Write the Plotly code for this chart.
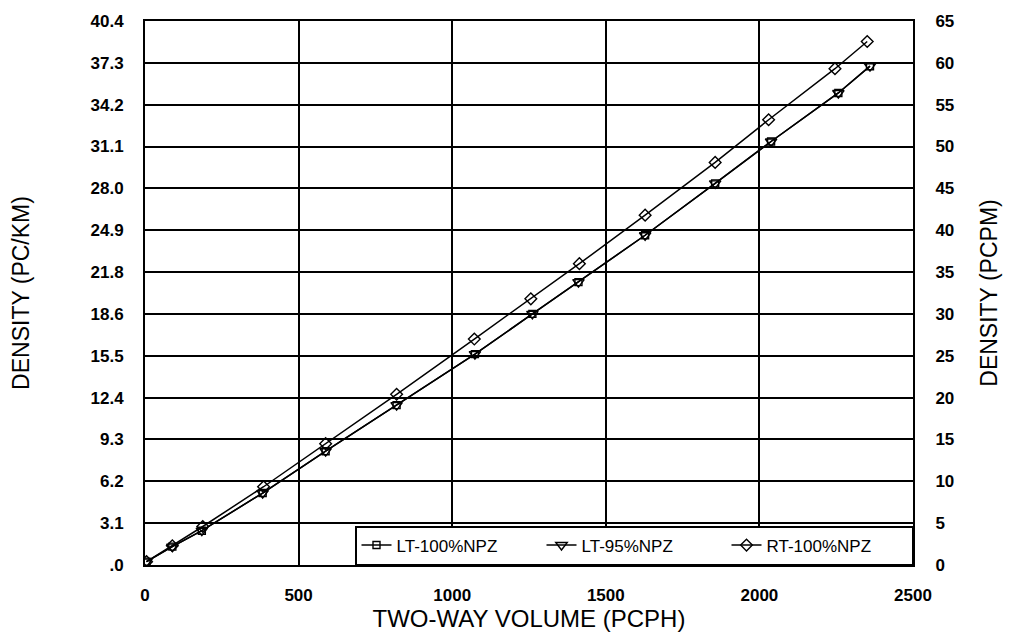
import plotly.graph_objects as go

# Two-way volume (pcph) and density (pcpm)
vol_lt100 = [5, 89, 185, 383, 588, 819, 1074, 1261, 1411, 1628, 1856, 2038, 2257, 2360]
den_lt100 = [0.4, 2.2, 4.1, 8.6, 13.6, 19.1, 25.2, 30.0, 33.8, 39.4, 45.6, 50.6, 56.4, 59.6]

vol_lt95 = [5, 89, 185, 383, 588, 819, 1074, 1261, 1411, 1628, 1856, 2038, 2257, 2360]
den_lt95 = [0.4, 2.2, 4.1, 8.6, 13.6, 19.1, 25.2, 30.0, 33.8, 39.4, 45.6, 50.6, 56.4, 59.6]

vol_rt100 = [5, 89, 188, 386, 588, 819, 1072, 1256, 1414, 1628, 1856, 2030, 2246, 2351]
den_rt100 = [0.4, 2.3, 4.6, 9.35, 14.5, 20.4, 27.0, 31.8, 36.0, 41.8, 48.1, 53.2, 59.3, 62.55]

pcpm_ticks = [0, 5, 10, 15, 20, 25, 30, 35, 40, 45, 50, 55, 60, 65]
pckm_labels = [".0", "3.1", "6.2", "9.3", "12.4", "15.5", "18.6", "21.8",
               "24.9", "28.0", "31.1", "34.2", "37.3", "40.4"]
x_ticks = [0, 500, 1000, 1500, 2000, 2500]

FONT = "Liberation Sans, Arial, sans-serif"

fig = go.Figure()
series = [
    ("LT-100%NPZ", vol_lt100, den_lt100, "square-open", 7),
    ("LT-95%NPZ", vol_lt95, den_lt95, "triangle-down-open", 10),
    ("RT-100%NPZ", vol_rt100, den_rt100, "diamond-open", 9),
]
for name, xs, ys, sym, sz in series:
    fig.add_trace(go.Scatter(
        x=xs, y=ys, name=name, mode="lines+markers",
        line=dict(color="black", width=1.5),
        marker=dict(symbol=sym, size=sz, color="black", line=dict(width=1.4, color="black")),
    ))

# right axis carrier (no visible marks)
fig.add_trace(go.Scatter(x=[None], y=[None], yaxis="y2", showlegend=False, hoverinfo="skip"))

tickfont = dict(size=17, family=FONT, color="black", weight="bold")
titlefont = dict(size=23, family=FONT, color="black")

fig.update_layout(
    width=1012, height=636,
    margin=dict(l=145, r=99, t=16, b=71),
    paper_bgcolor="white", plot_bgcolor="white",
    font=dict(family=FONT, color="black"),
    showlegend=True,
    legend=dict(
        orientation="h", x=1, xanchor="right", y=0, yanchor="bottom",
        bordercolor="black", borderwidth=1.5, bgcolor="white",
        font=dict(size=17, family=FONT, color="black"),
        entrywidth=140, entrywidthmode="pixels",
        traceorder="normal",
    ),
    xaxis=dict(
        range=[0, 2500], tickvals=x_ticks, ticks="", showgrid=True,
        gridcolor="black", gridwidth=1.5, zeroline=False,
        showline=True, linecolor="black", linewidth=2, mirror=True,
        tickfont=tickfont, ticklabelstandoff=14,
        title=dict(text="TWO-WAY VOLUME (PCPH)", font=dict(size=24, family=FONT, color="black"), standoff=2),
    ),
    yaxis=dict(
        range=[0, 65], tickvals=pcpm_ticks, ticktext=pckm_labels, ticks="",
        showgrid=True, gridcolor="black", gridwidth=1.5, zeroline=False,
        showline=True, linecolor="black", linewidth=2,
        tickfont=tickfont, ticklabelstandoff=16,
        title=dict(text="DENSITY (PC/KM)", font=titlefont, standoff=54),
    ),
    yaxis2=dict(
        range=[0, 65], tickvals=pcpm_ticks, overlaying="y", side="right",
        showgrid=False, zeroline=False, ticks="",
        showline=True, linecolor="black", linewidth=2,
        tickfont=tickfont, ticklabelstandoff=17,
        title=dict(text="DENSITY (PCPM)", font=titlefont, standoff=28),
    ),
)

fig.write_html("out.html")
